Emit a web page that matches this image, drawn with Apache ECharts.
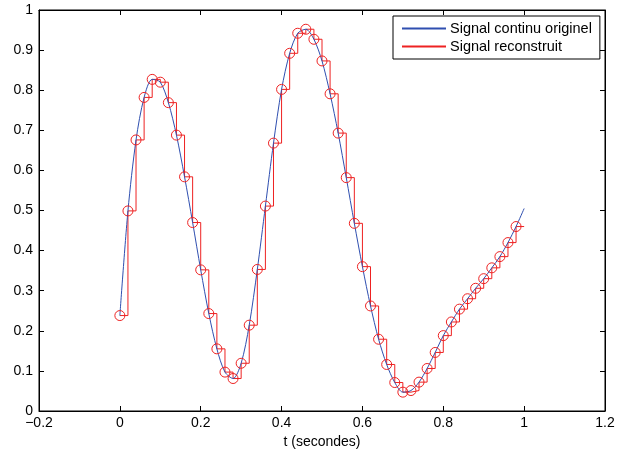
<!DOCTYPE html>
<html>
<head>
<meta charset="utf-8">
<script src="https://cdn.jsdelivr.net/npm/echarts@6/dist/echarts.min.js"></script>
<style>
  html, body { margin: 0; padding: 0; background: #fff; }
  #chart { width: 619px; height: 454px; }
</style>
</head>
<body>
<div id="chart"></div>
<script>
// sample instants (s) and sampled values
var sampleT = [
    0.00, 0.02, 0.04, 0.06, 0.08, 0.10, 0.12, 0.14, 0.16, 0.18,
    0.20, 0.22, 0.24, 0.26, 0.28, 0.30, 0.32, 0.34, 0.36, 0.38,
    0.40, 0.42, 0.44, 0.46, 0.48, 0.50, 0.52, 0.54, 0.56, 0.58,
    0.60, 0.62, 0.64, 0.66, 0.68, 0.70, 0.72, 0.74, 0.76, 0.78,
    0.80, 0.82, 0.84, 0.86, 0.88, 0.90, 0.92, 0.94, 0.96, 0.98
];
var sampleY = [
    0.238, 0.499, 0.676, 0.782, 0.827, 0.820, 0.769, 0.688, 0.584, 0.470,
    0.352, 0.243, 0.155, 0.097, 0.081, 0.119, 0.214, 0.353, 0.511, 0.668,
    0.802, 0.892, 0.942, 0.952, 0.927, 0.873, 0.791, 0.693, 0.582, 0.468,
    0.360, 0.262, 0.179, 0.116, 0.071, 0.047, 0.051, 0.072, 0.106, 0.146,
    0.188, 0.222, 0.254, 0.280, 0.306, 0.330, 0.357, 0.385, 0.420, 0.460
];
// end of the continuous signal and end of the hold
var endT = 1.0;
var endContinu = 0.505;

var xTicks = { min: -0.2, max: 1.2, step: 0.2 };
var yTicks = { min: 0, max: 1, step: 0.1 };

var font = "'Liberation Sans', Arial, Helvetica, sans-serif";

var continu = sampleT.map(function (t, i) { return [t, sampleY[i]]; });
continu.push([endT, endContinu]);
var reconstruit = sampleT.map(function (t, i) { return [t, sampleY[i]]; });
reconstruit.push([endT, sampleY[sampleY.length - 1]]);
var echantillons = sampleT.map(function (t, i) { return [t, sampleY[i]]; });

function fmt(v) { return String(parseFloat(v.toFixed(1))).replace('-', '\u2212'); }

var chart = echarts.init(document.getElementById('chart'));

var tickStyle = { show: true, inside: true, length: 5, lineStyle: { color: '#000', width: 1 } };

var option = {
    animation: false,
    backgroundColor: '#fff',
    grid: { left: 39, right: 14, top: 10, bottom: 43, show: true, borderColor: '#000', borderWidth: 1 },
    legend: {
        data: ['Signal continu originel', 'Signal reconstruit'],
        orient: 'vertical',
        left: 393, top: 16,
        padding: [5, 8, 5, 9],
        itemGap: 3,
        itemWidth: 44, itemHeight: 2,
        icon: 'rect',
        backgroundColor: '#fff',
        borderColor: '#000', borderWidth: 1,
        textStyle: { fontFamily: font, fontSize: 14.5, color: '#000', padding: [0, 0, 0, -1] }
    },
    xAxis: [{
        type: 'value', min: xTicks.min, max: xTicks.max, interval: xTicks.step,
        name: 't (secondes)', nameLocation: 'middle', nameGap: 24,
        nameTextStyle: { fontFamily: font, fontSize: 14, color: '#000' },
        axisLine: { show: true, onZero: false, lineStyle: { color: '#000' } },
        axisTick: tickStyle,
        axisLabel: { fontFamily: font, fontSize: 14, color: '#000', margin: 5, formatter: fmt },
        splitLine: { show: false }
    }, {
        type: 'value', position: 'top', min: xTicks.min, max: xTicks.max, interval: xTicks.step,
        axisLine: { show: true, onZero: false, lineStyle: { color: '#000' } },
        axisTick: tickStyle, axisLabel: { show: false }, splitLine: { show: false }
    }],
    yAxis: [{
        type: 'value', min: yTicks.min, max: yTicks.max, interval: yTicks.step,
        axisLine: { show: true, onZero: false, lineStyle: { color: '#000' } },
        axisTick: tickStyle,
        axisLabel: { fontFamily: font, fontSize: 14, color: '#000', margin: 6, formatter: fmt },
        splitLine: { show: false }
    }, {
        type: 'value', position: 'right', min: yTicks.min, max: yTicks.max, interval: yTicks.step,
        axisLine: { show: true, onZero: false, lineStyle: { color: '#000' } },
        axisTick: tickStyle, axisLabel: { show: false }, splitLine: { show: false }
    }],
    series: [
        {
            name: 'Signal continu originel',
            type: 'line',
            data: continu,
            smooth: 0.3,
            showSymbol: false,
            color: '#2f4fb0',
            lineStyle: { color: '#2f4fb0', width: 1 },
            z: 3
        },
        {
            name: 'Signal reconstruit',
            type: 'line',
            step: 'end',
            data: reconstruit,
            showSymbol: false,
            color: '#ee2222',
            lineStyle: { color: '#ee2222', width: 1 },
            z: 2
        },
        {
            name: 'echantillons',
            type: 'scatter',
            data: echantillons,
            symbol: 'circle',
            symbolSize: 10,
            itemStyle: { color: 'rgba(0,0,0,0)', borderColor: '#ee2222', borderWidth: 1, opacity: 1 },
            emphasis: { disabled: true },
            z: 4
        }
    ]
};
chart.setOption(option);
</script>
</body>
</html>
